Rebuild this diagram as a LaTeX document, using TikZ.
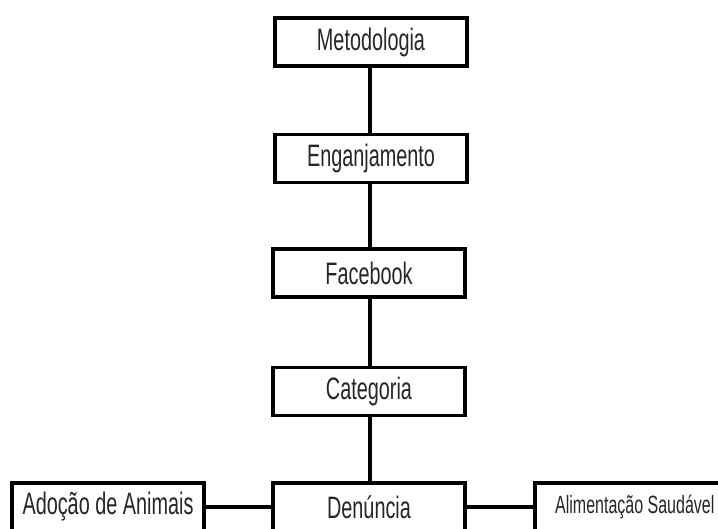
\documentclass[tikz,border=0pt]{standalone}
\usepackage{fontspec}
\setmainfont{Liberation Sans}[FakeStretch=0.64]
\begin{document}
\begin{tikzpicture}[x=1pt,y=-1pt,
  box/.style={draw=black,line width=3.6pt,minimum width=192pt,minimum height=48pt,inner sep=0pt,text=black!85,font=\fontsize{31}{33}\selectfont},
  smallbox/.style={box,font=\fontsize{25}{27}\selectfont},
  link/.style={line width=3.6pt,draw=black}]
\useasboundingbox (0,0) rectangle (718,529);
\clip (0,0) rectangle (718,529);
\node[box] (met) at (371,42) {Metodologia};
\node[box] (eng) at (371,158.5) {Enganjamento};
\node[box] (fac) at (369,273) {Facebook};
\node[box] (cat) at (369,391.5) {Categoria};
\node[box] (den) at (369,507) {Denúncia};
\node[box] (ado) at (108,507) {Adoção de Animais};
\node[smallbox,anchor=west] (ali) at (533,507) {\hspace{8pt}Alimentação Saudável\hspace{24pt}};
\draw[link] (met.south -| 370,0) -- (eng.north -| 370,0);
\draw[link] (eng.south -| 370,0) -- (fac.north -| 370,0);
\draw[link] (fac.south -| 370,0) -- (cat.north -| 370,0);
\draw[link] (cat.south -| 370,0) -- (den.north -| 370,0);
\draw[link] (ado.east) -- (den.west);
\draw[link] (den.east) -- (ali.west);
\end{tikzpicture}
\end{document}
